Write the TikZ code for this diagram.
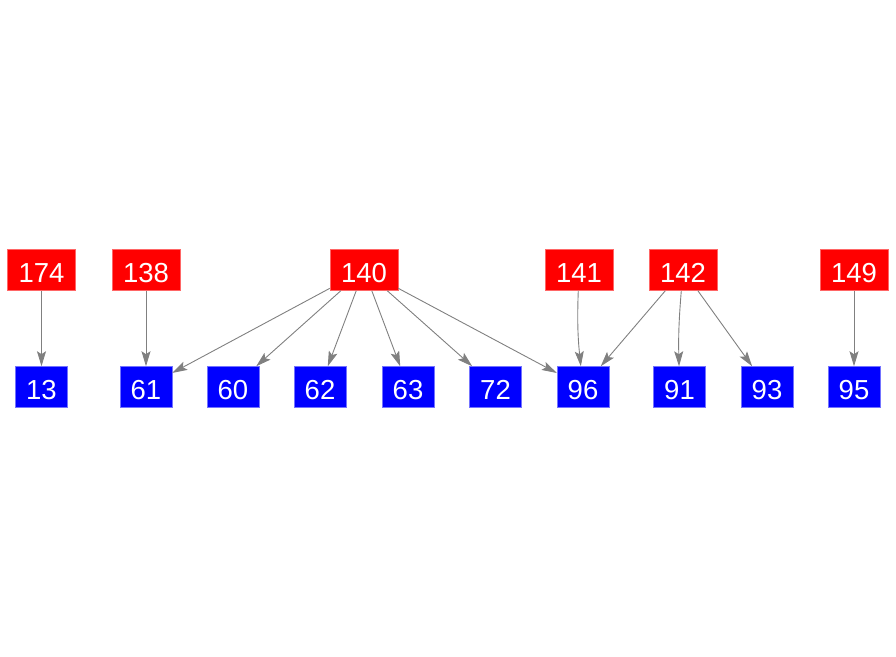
\documentclass[tikz,border=0pt]{standalone}
\usepackage{fontspec}
\setmainfont{Liberation Sans}
\usetikzlibrary{arrows.meta}
\begin{document}
\begin{tikzpicture}[x=1pt,y=-1pt,
  boxbase/.style={line width=0.5pt,minimum height=41pt,inner sep=0pt,text=white,text height=24.5pt,text depth=0pt,font=\fontsize{27.5}{30}\selectfont},
  redbox/.style={boxbase,fill=red,draw=red!60!white,minimum width=68pt},
  bluebox/.style={boxbase,fill=blue,draw=blue!55!white,minimum width=52pt},
  edge/.style={draw=gray,line width=0.9pt,-{Stealth[length=15pt,width=9pt,inset=3pt]}}]
\useasboundingbox (0,0) rectangle (896,656);
\node[redbox] (n174) at (41.5,270) {174};
\node[redbox] (n138) at (146,270) {138};
\node[redbox] (n140) at (364,270) {140};
\node[redbox] (n141) at (579,270) {141};
\node[redbox] (n142) at (683,270) {142};
\node[redbox] (n149) at (854,270) {149};
\node[bluebox] (n13) at (41.5,387) {13};
\node[bluebox] (n61) at (146,387) {61};
\node[bluebox] (n60) at (233,387) {60};
\node[bluebox] (n62) at (320,387) {62};
\node[bluebox] (n63) at (408,387) {63};
\node[bluebox] (n72) at (495.5,387) {72};
\node[bluebox] (n96) at (583,387) {96};
\node[bluebox] (n91) at (679.5,387) {91};
\node[bluebox] (n93) at (767,387) {93};
\node[bluebox] (n95) at (854,387) {95};
\draw[edge] (n174) -- (n13);
\draw[edge] (n138) -- (n61);
\draw[edge] (n140) -- (n61);
\draw[edge] (n140) -- (n60);
\draw[edge] (n140) -- (n62);
\draw[edge] (n140) -- (n63);
\draw[edge] (n140) -- (n72);
\draw[edge] (n140) -- (n96);
\draw[edge] (n141) to[bend right=4] (n96);
\draw[edge] (n142) -- (n96);
\draw[edge] (n142) to[bend right=3] (n91);
\draw[edge] (n142) -- (n93);
\draw[edge] (n149) -- (n95);
\end{tikzpicture}
\end{document}
